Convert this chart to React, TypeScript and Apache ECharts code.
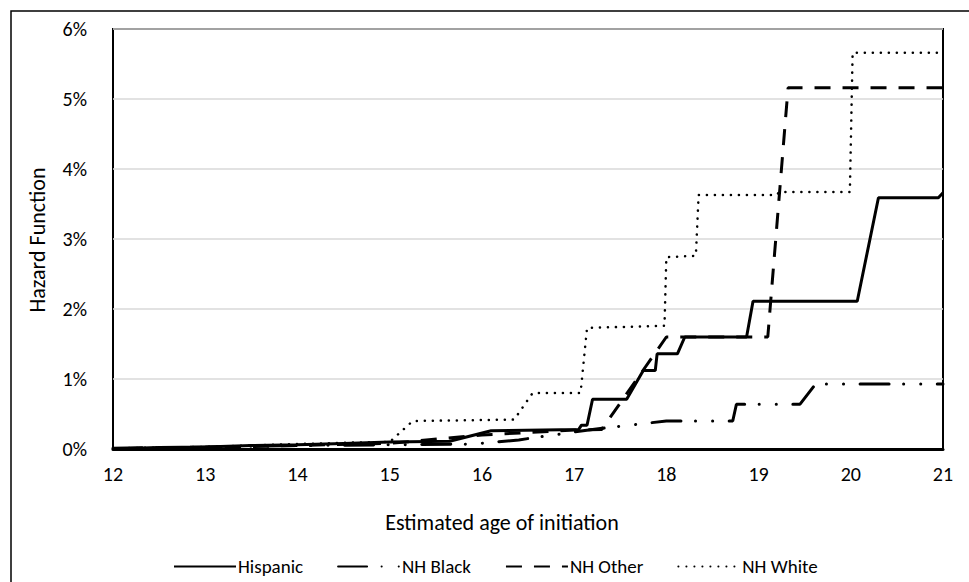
import React, { useEffect, useRef } from "react";
import * as echarts from "echarts";

const seriesNames = ["Hispanic", "NH Black", "NH Other", "NH White"];
const xTicks = [12, 13, 14, 15, 16, 17, 18, 19, 20, 21];
const yTicks = [0, 1, 2, 3, 4, 5, 6];

// [age, hazard %]
const hispanic: [number, number][] = [
  [12, 0.0], [12.5, 0.02], [13, 0.03], [13.5, 0.05], [14, 0.06], [14.5, 0.08], [15, 0.1],
  [15.65, 0.11], [16.1, 0.26], [17.05, 0.28], [17.08, 0.34], [17.14, 0.34], [17.2, 0.71],
  [17.57, 0.71], [17.75, 1.12], [17.88, 1.12], [17.9, 1.36], [18.12, 1.36], [18.2, 1.6],
  [18.87, 1.6], [18.94, 2.11], [20.07, 2.11], [20.3, 3.59], [20.95, 3.59], [21, 3.66],
];
const nhBlack: [number, number][] = [
  [12, 0.01], [13, 0.03], [14, 0.05], [15, 0.06], [15.9, 0.07], [16.4, 0.13], [17.2, 0.28],
  [18.0, 0.4], [18.72, 0.4], [18.76, 0.64], [19.45, 0.64], [19.62, 0.93], [21, 0.93],
];
const nhOther: [number, number][] = [
  [12, 0.0], [13, 0.02], [14, 0.05], [15, 0.08], [16, 0.2], [17.0, 0.27], [17.3, 0.28],
  [18.0, 1.6], [19.1, 1.6], [19.32, 5.16], [21, 5.16],
];
const nhWhite: [number, number][] = [
  [12, 0.01], [13, 0.03], [14, 0.07], [14.5, 0.09], [15.0, 0.1], [15.25, 0.4], [16.35, 0.42],
  [16.55, 0.8], [17.07, 0.8], [17.14, 1.73], [17.98, 1.76], [18.0, 2.74], [18.32, 2.76],
  [18.35, 3.63], [19.2, 3.63], [19.22, 3.67], [19.99, 3.67], [20.02, 5.66], [21, 5.66],
];

const FONT = "Carlito, 'Liberation Sans Narrow', Lato, sans-serif";
const TXT = "#000";

export default function App() {
  const ref = useRef<HTMLDivElement>(null);
  useEffect(() => {
    if (!ref.current) return;
    const chart = echarts.init(ref.current, undefined, { renderer: "svg" });
    const mk = (name: string, data: [number, number][], lineStyle: any) => ({
      name,
      type: "line",
      data,
      symbol: "none",
      showSymbol: false,
      lineStyle: { color: "#000", ...lineStyle },
      itemStyle: { color: "#000" },
      z: 3,
    });
    chart.setOption({
      animation: false,
      backgroundColor: "#fff",
      grid: {
        left: 113, right: 26, top: 29, bottom: 133,
        show: true, borderColor: "#000", borderWidth: 2, backgroundColor: "transparent",
      },
      xAxis: {
        type: "value", min: xTicks[0], max: xTicks[xTicks.length - 1], interval: 1,
        axisLine: { show: true, onZero: false, lineStyle: { color: "#000", width: 3 } },
        axisTick: { show: false },
        splitLine: { show: false },
        axisLabel: { fontFamily: FONT, fontSize: 20, color: TXT, margin: 15 },
      },
      yAxis: {
        type: "value", min: yTicks[0], max: yTicks[yTicks.length - 1], interval: 1,
        axisLine: { show: false },
        axisTick: { show: false },
        splitLine: { show: true, lineStyle: { color: "#d9d9d9", width: 1.5 } },
        axisLabel: { fontFamily: FONT, fontSize: 20, color: TXT, margin: 26, formatter: "{value}%" },
      },
      legend: {
        data: seriesNames,
        left: 168, top: 552,
        itemWidth: 62, itemHeight: 14, itemGap: 34,
        itemStyle: { color: "rgba(0,0,0,0)", borderWidth: 0, opacity: 0 },
        textStyle: { fontFamily: FONT, fontSize: 19, color: TXT, padding: [0, 0, 0, -3] },
      },
      graphic: [
        {
          type: "rect", silent: true,
          shape: { x: 11, y: 11, width: 970, height: 580 },
          style: { fill: "none", stroke: "#000", lineWidth: 1.5 },
        },
        {
          type: "text", x: 502, y: 522,
          style: { text: "Estimated age of initiation", fontFamily: FONT, fontSize: 22, fill: TXT, align: "center", verticalAlign: "middle" },
        },
        {
          type: "text", x: 37, y: 240, rotation: Math.PI / 2,
          style: { text: "Hazard Function", fontFamily: FONT, fontSize: 22, fill: TXT, align: "center", verticalAlign: "middle" },
        },
      ],
      series: [
        mk(seriesNames[0], hispanic, { width: 3, type: "solid" }),
        mk(seriesNames[1], nhBlack, { width: 3, type: [29, 14.5, 0.1, 17, 0.1, 16.5], cap: "round" }),
        mk(seriesNames[2], nhOther, { width: 3, type: [16, 12] }),
        mk(seriesNames[3], nhWhite, { width: 2.5, type: [0.1, 7.9], cap: "round" }),
      ],
    });
    return () => chart.dispose();
  }, []);
  return <div ref={ref} style={{ position: "absolute", left: 0, top: 0, width: 969, height: 582 }} />;
}
